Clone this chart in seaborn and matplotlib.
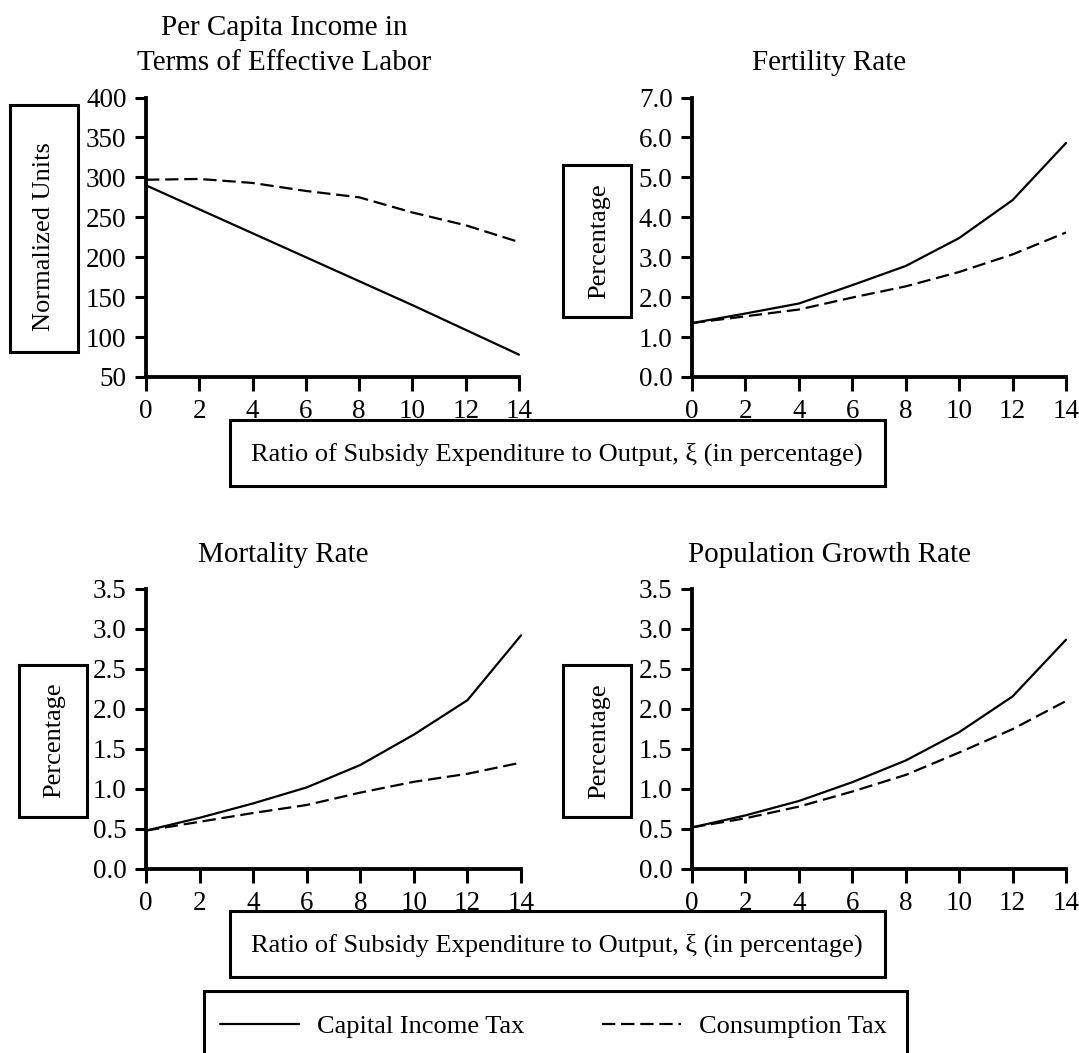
import matplotlib
matplotlib.use("Agg")
import matplotlib.pyplot as plt
import seaborn as sns
from matplotlib.patches import Rectangle
from matplotlib.lines import Line2D

# ---------------- data ----------------
xi = [0, 2, 4, 6, 8, 10, 12, 14]
xticks = [0, 2, 4, 6, 8, 10, 12, 14]

income_capital = [290, 260, 230, 200, 170, 140, 109, 78]
income_consumption = [297, 298, 293, 283, 275, 256, 240, 219]

fertility_capital = [1.35, 1.59, 1.84, 2.30, 2.78, 3.48, 4.43, 5.86]
fertility_consumption = [1.35, 1.52, 1.69, 1.99, 2.27, 2.63, 3.07, 3.62]

mortality_capital = [0.48, 0.64, 0.82, 1.02, 1.30, 1.68, 2.11, 2.92]
mortality_consumption = [0.48, 0.59, 0.70, 0.80, 0.955, 1.09, 1.19, 1.33]

popgrowth_capital = [0.52, 0.67, 0.85, 1.085, 1.356, 1.71, 2.157, 2.866]
popgrowth_consumption = [0.52, 0.634, 0.78, 0.968, 1.176, 1.456, 1.748, 2.10]

income_yticks = [50, 100, 150, 200, 250, 300, 350, 400]
fertility_yticks = [0.0, 1.0, 2.0, 3.0, 4.0, 5.0, 6.0, 7.0]
rate_yticks = [0.0, 0.5, 1.0, 1.5, 2.0, 2.5, 3.0, 3.5]

titles = ["Per Capita Income in\nTerms of Effective Labor", "Fertility Rate",
          "Mortality Rate", "Population Growth Rate"]
ylabels = ["Normalized Units", "Percentage", "Percentage", "Percentage"]
xlabel = "Ratio of Subsidy Expenditure to Output, \u03be (in percentage)"
legend_labels = ["Capital Income Tax", "Consumption Tax"]

# ---------------- style ----------------
sns.set_theme(style="white")
plt.rcParams["font.family"] = ["Liberation Serif", "DejaVu Serif"]
plt.rcParams["text.color"] = "black"
plt.rcParams["axes.labelcolor"] = "black"
plt.rcParams["xtick.color"] = "black"
plt.rcParams["ytick.color"] = "black"

W, H = 1079, 1053
fig = plt.figure(figsize=(W / 100, H / 100), dpi=100)


def fx(x):
    return x / W


def fy(y):
    return 1 - y / H


def axes_px(l, r, t, b):
    return fig.add_axes([fx(l), fy(b), (r - l) / W, (b - t) / H])


def box_px(l, r, t, b, lw=2.2):
    fig.add_artist(Rectangle((fx(l), fy(b)), (r - l) / W, (b - t) / H,
                             transform=fig.transFigure, fill=False,
                             lw=lw, ec="black", clip_on=True))


DASH = (0, (6, 2.6))
TICK_FS = 19.5
LAB_FS = 19
TITLE_FS = 21

panels = [
    dict(pos=(146, 519, 97.5, 377), cap=income_capital, con=income_consumption,
         yt=income_yticks, fmt="{:.0f}"),
    dict(pos=(692, 1066, 97.5, 377), cap=fertility_capital, con=fertility_consumption,
         yt=fertility_yticks, fmt="{:.1f}"),
    dict(pos=(146, 521, 589, 869), cap=mortality_capital, con=mortality_consumption,
         yt=rate_yticks, fmt="{:.1f}"),
    dict(pos=(692, 1066, 589, 869), cap=popgrowth_capital, con=popgrowth_consumption,
         yt=rate_yticks, fmt="{:.1f}"),
]

for p in panels:
    ax = axes_px(*p["pos"])
    sns.lineplot(x=xi, y=p["cap"], ax=ax, color="black", lw=1.6,
                 linestyle="-", clip_on=False)
    sns.lineplot(x=xi, y=p["con"], ax=ax, color="black", lw=1.6,
                 linestyle=DASH, clip_on=False)
    ax.set_xlim(xticks[0], xticks[-1])
    ax.set_ylim(p["yt"][0], p["yt"][-1])
    ax.set_xticks(xticks)
    ax.set_xticklabels([str(t) for t in xticks])
    ax.set_yticks(p["yt"])
    ax.set_yticklabels([p["fmt"].format(t) for t in p["yt"]])
    for s in ["top", "right"]:
        ax.spines[s].set_visible(False)
    for s in ["left", "bottom"]:
        ax.spines[s].set_linewidth(2.75)
        ax.spines[s].set_color("black")
        ax.spines[s].set_capstyle("projecting")
    ax.tick_params(axis="both", which="major", direction="out", colors="black",
                   labelcolor="black", width=2.2, labelsize=TICK_FS,
                   left=True, bottom=True)
    ax.tick_params(axis="y", length=8, pad=6)
    ax.tick_params(axis="x", length=10, pad=5.5)
    ax.set_xlabel("")
    ax.set_ylabel("")
    ax.set_facecolor("none")
    ax.grid(False)

# ---------------- titles ----------------
fig.text(fx(284), fy(35), "Per Capita Income in", ha="center", va="baseline",
         fontsize=TITLE_FS, color="black")
fig.text(fx(284), fy(70), "Terms of Effective Labor", ha="center", va="baseline",
         fontsize=TITLE_FS, color="black")
fig.text(fx(829), fy(70), titles[1], ha="center", va="baseline",
         fontsize=TITLE_FS, color="black")
fig.text(fx(283), fy(562), titles[2], ha="center", va="baseline",
         fontsize=TITLE_FS, color="black")
fig.text(fx(830), fy(562), titles[3], ha="center", va="baseline",
         fontsize=TITLE_FS, color="black")

# ---------------- y-label boxes ----------------
ybox = [(10, 77.5, 105, 352), (563, 631, 165, 317), (19, 87, 665, 817), (563, 631, 665, 817)]
ytxt = [(44, 237), (599, 241), (54, 740), (599, 741)]
for (l, r, t, b), (cx, cy), lab in zip(ybox, ytxt, ylabels):
    box_px(l, r, t, b)
    fig.text(fx(cx), fy(cy), lab, rotation=90, ha="center", va="center",
             fontsize=LAB_FS, color="black")

# ---------------- x-label boxes ----------------
for (t, b, cy) in [(420, 486, 454), (910.7, 976.7, 945)]:
    box_px(229.5, 885, t, b)
    fig.text(fx(557), fy(cy), xlabel, ha="center", va="center",
             fontsize=LAB_FS, color="black")

# ---------------- legend ----------------
box_px(204.5, 907, 990.7, 1070)
handles = [Line2D([], [], color="black", lw=1.6, linestyle="-"),
           Line2D([], [], color="black", lw=1.6, linestyle=DASH)]
leg = fig.legend(handles, legend_labels, loc="center left",
                 bbox_to_anchor=(fx(220), fy(1026)), ncol=2, frameon=False,
                 fontsize=LAB_FS, handlelength=3.0, handletextpad=0.68,
                 columnspacing=2.95, borderpad=0, borderaxespad=0)
for t in leg.get_texts():
    t.set_color("black")

fig.savefig("out.png", dpi=100)
